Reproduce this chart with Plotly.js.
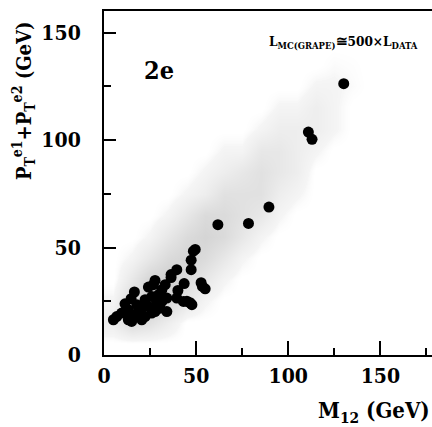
<!DOCTYPE html>
<html>
<head>
<meta charset="utf-8">
<script src="https://cdn.plot.ly/plotly-3.0.1.min.js"></script>
<style>
  html, body { margin: 0; padding: 0; background: #fff; }
  #plot { width: 432px; height: 427px; }
</style>
</head>
<body>
<div id="plot"></div>
<script>
// data events (2e sample)
var dataM  = [130.1, 110.9, 112.9, 89.5, 78.4, 61.8, 49.5, 48.5, 47.3, 47.3, 39.5, 36.4, 36.4, 52.7, 53.4, 54.9,
              43.5, 27.7, 26.8, 24.1, 33.2, 31.4, 16.5, 40.1, 39.5, 43.1, 47.7, 34.1, 14.7, 11.4, 17.8, 22.3,
              24.1, 28.6, 31.4, 25.9, 29.5, 20.5, 13.2, 18.6, 27.7, 34.1, 9.6, 6.9, 13.2, 15.0, 20.5, 22.3,
              16.8, 25.9, 30.4, 5.1, 45.0, 46.7];
var dataPt = [126.2, 103.7, 100.3, 68.8, 61.2, 60.6, 49.1, 48.3, 44.1, 39.7, 39.7, 37.4, 36.0, 33.6, 31.9, 30.8,
              33.2, 34.7, 32.7, 31.6, 32.7, 30.4, 29.3, 30.0, 26.5, 24.9, 23.4, 26.5, 26.2, 23.8, 23.4, 25.7,
              22.6, 24.2, 24.9, 27.2, 28.0, 21.8, 21.0, 20.2, 20.2, 20.2, 19.5, 17.9, 16.4, 15.6, 16.4, 17.9,
              17.9, 19.5, 21.8, 16.4, 25.0, 24.3];

var mcM  = [5, 15, 25, 35, 45, 55, 65, 75, 85, 95, 105, 115, 125, 135, 145, 155, 165, 175];
var mcPt = [5, 15, 25, 35, 45, 55, 65, 75, 85, 95, 105, 115, 125, 135, 145, 155];
var mcDensity = [
  [0, 0, 0, 0, 0, 0, 0, 0, 0, 0, 0, 0, 0, 0, 0, 0, 0, 0],
  [2, 5, 4, 2, 0, 0, 0, 0, 0, 0, 0, 0, 0, 0, 0, 0, 0, 0],
  [1, 5, 7, 6, 3, 1, 0, 0, 0, 0, 0, 0, 0, 0, 0, 0, 0, 0],
  [0, 3, 6, 7, 5, 3, 1, 0, 0, 0, 0, 0, 0, 0, 0, 0, 0, 0],
  [0, 1, 3, 5, 6, 5, 3, 1, 0, 0, 0, 0, 0, 0, 0, 0, 0, 0],
  [0, 0, 1, 3, 5, 6, 5, 3, 1, 0, 0, 0, 0, 0, 0, 0, 0, 0],
  [0, 0, 0, 1, 3, 5, 5, 4, 3, 1, 0, 0, 0, 0, 0, 0, 0, 0],
  [0, 0, 0, 0, 1, 2, 4, 4, 4, 2, 1, 0, 0, 0, 0, 0, 0, 0],
  [0, 0, 0, 0, 0, 1, 2, 3, 4, 3, 2, 0, 0, 0, 0, 0, 0, 0],
  [0, 0, 0, 0, 0, 0, 1, 1, 3, 3, 2, 1, 0, 0, 0, 0, 0, 0],
  [0, 0, 0, 0, 0, 0, 0, 0, 1, 2, 2, 2, 1, 0, 0, 0, 0, 0],
  [0, 0, 0, 0, 0, 0, 0, 0, 0, 1, 1, 2, 1, 0, 0, 0, 0, 0],
  [0, 0, 0, 0, 0, 0, 0, 0, 0, 0, 0, 1, 1, 0.5, 0, 0, 0, 0],
  [0, 0, 0, 0, 0, 0, 0, 0, 0, 0, 0, 0, 0.5, 0.3, 0, 0, 0, 0],
  [0, 0, 0, 0, 0, 0, 0, 0, 0, 0, 0, 0, 0, 0, 0, 0, 0, 0],
  [0, 0, 0, 0, 0, 0, 0, 0, 0, 0, 0, 0, 0, 0, 0, 0, 0, 0]
];

var serif = 'DejaVu Serif Condensed, DejaVu Serif';

var mc = {
  type: 'heatmap',
  x: mcM, y: mcPt, z: mcDensity,
  zsmooth: 'best',
  zmin: 0, zmax: 8,
  colorscale: [[0, 'rgba(255,255,255,0)'], [0.1, 'rgb(245,245,245)'], [1, 'rgb(200,200,200)']],
  showscale: false,
  hoverinfo: 'skip'
};

var data = {
  type: 'scatter',
  mode: 'markers',
  x: dataM, y: dataPt,
  marker: { color: 'black', size: 11 }
};

var axisFont = { family: serif, size: 21, color: 'black', weight: 700 };

var layout = {
  width: 432, height: 427,
  margin: { l: 104, r: 0, t: 11, b: 72 },
  paper_bgcolor: 'white', plot_bgcolor: 'white',
  showlegend: false,
  font: { family: serif, color: 'black', weight: 700 },
  xaxis: {
    range: [0, 178], dtick: 50, tick0: 0,
    showgrid: false, zeroline: false,
    showline: true, linecolor: 'black', linewidth: 2, mirror: true,
    ticks: 'inside', ticklen: 14, tickwidth: 2, tickcolor: 'black',
    minor: { dtick: 25, ticks: 'inside', ticklen: 7, tickwidth: 2, tickcolor: 'black' },
    tickfont: axisFont, ticklabelstandoff: 1
  },
  yaxis: {
    range: [0, 160], dtick: 50, tick0: 0,
    showgrid: false, zeroline: false,
    showline: true, linecolor: 'black', linewidth: 2,
    ticks: 'inside', ticklen: 12, tickwidth: 2, tickcolor: 'black',
    minor: { dtick: 25, ticks: 'inside', ticklen: 7, tickwidth: 2, tickcolor: 'black' },
    tickfont: axisFont, ticklabelstandoff: 17
  },
  annotations: [
    { text: '2e', xref: 'paper', yref: 'paper', x: 0.116, xanchor: 'left', y: 0.828, yanchor: 'middle',
      showarrow: false, font: { family: serif, size: 25, weight: 700 } },
    { text: 'L<sub>MC(GRAPE)</sub>≅500×L<sub>DATA</sub>', xref: 'paper', yref: 'paper',
      x: 0.729, xanchor: 'center', y: 0.91, yanchor: 'middle', showarrow: false,
      font: { family: serif, size: 13.5, weight: 700 } },
    { text: 'P<sub>T</sub><sup>e1</sup>+P<sub>T</sub><sup>e2</sup> (GeV)', xref: 'paper', yref: 'paper',
      x: -0.245, xanchor: 'center', y: 0.74, yanchor: 'middle', textangle: -90, showarrow: false,
      font: { family: serif, size: 20, weight: 700 } },
    { text: 'M<sub>12</sub> (GeV)', xref: 'paper', yref: 'paper',
      x: 1, xanchor: 'right', y: -0.165, yanchor: 'middle', showarrow: false,
      font: { family: serif, size: 22, weight: 700 } }
  ]
};

Plotly.newPlot('plot', [mc, data], layout, { displayModeBar: false, staticPlot: true });
</script>
</body>
</html>
